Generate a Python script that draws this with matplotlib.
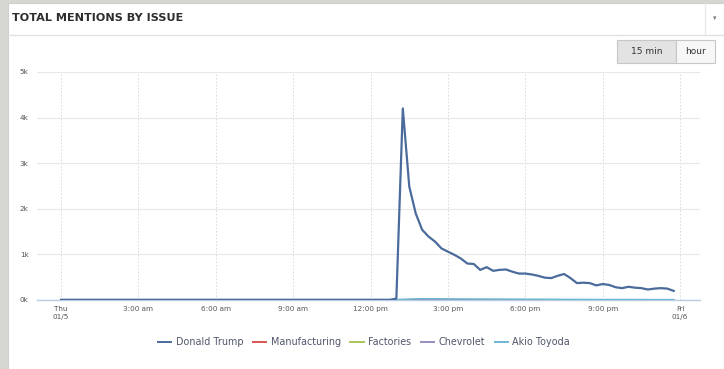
import matplotlib
matplotlib.use("Agg")
import matplotlib.pyplot as plt
from matplotlib.patches import Rectangle
from matplotlib.lines import Line2D

# --- data: mentions per 15-minute bucket, Thu 01/5 00:00 -> Fri 01/6 00:00 (hours) ---
trump_hours = [0, 12.75, 13.0, 13.25, 13.5, 13.75, 14.0, 14.25, 14.5, 14.75,
               15.0, 15.25, 15.5, 15.75, 16.0, 16.25, 16.5, 16.75, 17.0, 17.25,
               17.5, 17.75, 18.0, 18.25, 18.5, 18.75, 19.0, 19.25, 19.5, 19.75,
               20.0, 20.25, 20.5, 20.75, 21.0, 21.25, 21.5, 21.75, 22.0, 22.25,
               22.5, 22.75, 23.0, 23.25, 23.5, 23.75]
trump_values = [5, 5, 30, 4200, 2490, 1900, 1540, 1390, 1280, 1130,
                1060, 990, 910, 800, 790, 660, 720, 640, 660, 670,
                620, 580, 580, 560, 530, 490, 480, 530, 570, 480,
                370, 380, 370, 320, 350, 330, 280, 260, 290, 270,
                260, 230, 250, 260, 250, 200]

other_hours = [0, 12.75, 13.0, 14.0, 15.0, 16.0, 17.0, 18.0, 19.0, 20.0, 21.0, 22.0, 23.0, 23.75]
manufacturing = [0, 0, 5, 12, 10, 8, 8, 6, 6, 5, 4, 4, 3, 3]
factories = [0, 0, 6, 15, 12, 10, 9, 8, 7, 6, 5, 5, 4, 4]
chevrolet = [0, 0, 4, 10, 8, 7, 6, 6, 5, 5, 4, 3, 3, 3]
toyoda = [2, 2, 10, 30, 25, 22, 20, 18, 16, 14, 12, 12, 10, 10]

series_names = ["Donald Trump", "Manufacturing", "Factories", "Chevrolet", "Akio Toyoda"]
series_colors = ["#4a6b9c", "#d9534f", "#a8c35c", "#9a8cc2", "#6bb8d6"]

tick_hours = [0, 3, 6, 9, 12, 15, 18, 21, 24]
tick_labels = ["Thu\n01/5", "3:00 am", "6:00 am", "9:00 am", "12:00 pm",
               "3:00 pm", "6:00 pm", "9:00 pm", "Fri\n01/6"]
y_ticks = [0, 1000, 2000, 3000, 4000, 5000]
y_labels = ["0k", "1k", "2k", "3k", "4k", "5k"]

W, H = 724, 369
fig = plt.figure(figsize=(W / 100, H / 100), dpi=100)
fig.patch.set_facecolor("#d6d6d2")

# white panel with header strip
fig.patches.append(Rectangle((8 / W, 0), 1 - 8 / W, 1 - 3 / H, transform=fig.transFigure,
                             facecolor="white", edgecolor="#cfcfcf", lw=0.8, zorder=-10))
fig.add_artist(Line2D([8 / W, 1], [1 - 35 / H, 1 - 35 / H], color="#e2e2e2", lw=1.0,
                      transform=fig.transFigure))
fig.add_artist(Line2D([705 / W, 705 / W], [1 - 3 / H, 1 - 35 / H], color="#e6e6e6", lw=0.8,
                      transform=fig.transFigure))
fig.text(12 / W, 1 - 18 / H, "TOTAL MENTIONS BY ISSUE", fontsize=8.1, fontweight="bold",
         color="#2e2e2e", va="center", ha="left")
fig.text(715 / W, 1 - 18 / H, "▾", fontsize=5, color="#777777", va="center", ha="center")

# interval toggle buttons
fig.patches.append(Rectangle((617 / W, 1 - 63 / H), 59 / W, 23 / H, transform=fig.transFigure,
                             facecolor="#e3e3e3", edgecolor="#c6c6c6", lw=0.8))
fig.patches.append(Rectangle((676 / W, 1 - 63 / H), 39 / W, 23 / H, transform=fig.transFigure,
                             facecolor="#f7f7f7", edgecolor="#c6c6c6", lw=0.8))
fig.text(646.5 / W, 1 - 51.5 / H, "15 min", fontsize=6.5, color="#333333", ha="center", va="center")
fig.text(695.5 / W, 1 - 51.5 / H, "hour", fontsize=6.5, color="#333333", ha="center", va="center")

ax = fig.add_axes([37 / W, 1 - 300 / H, 663 / W, 228 / H])
ax.set_facecolor("none")
ax.set_zorder(2)

others = [manufacturing, factories, chevrolet, toyoda]
for vals, color in zip(others, series_colors[1:]):
    ax.plot(other_hours, vals, color=color, lw=1.0, zorder=3)
ax.plot(trump_hours, trump_values, color=series_colors[0], lw=1.6, zorder=4)

ax.set_xlim(-0.93, 24.77)
ax.set_ylim(0, 5000)
ax.set_xticks(tick_hours)
ax.set_xticklabels(tick_labels, fontsize=5.2, color="#555555", linespacing=1.5)
ax.set_yticks(y_ticks)
ax.set_yticklabels(y_labels, fontsize=5.2, color="#555555")
ax.tick_params(axis="both", length=0, pad=4)
ax.tick_params(axis="y", pad=6)

ax.grid(axis="y", color="#e8e8e8", lw=0.9)
ax.grid(axis="x", color="#d8d8d8", lw=0.7, linestyle=(0, (1.5, 2)))
for side in ["top", "right", "left"]:
    ax.spines[side].set_visible(False)
ax.spines["bottom"].set_color("#b9cde0")
ax.spines["bottom"].set_linewidth(1.0)
ax.set_axisbelow(True)

handles = [Line2D([], [], color=c, lw=1.4) for c in series_colors]
fig.legend(handles, series_names, loc="center", bbox_to_anchor=(364 / W, 1 - 342 / H),
           ncol=5, frameon=False, fontsize=6.9, handlelength=1.4, handletextpad=0.45,
           columnspacing=1.0, labelcolor="#50566a")

fig.savefig("out.png", dpi=100, facecolor=fig.get_facecolor())
